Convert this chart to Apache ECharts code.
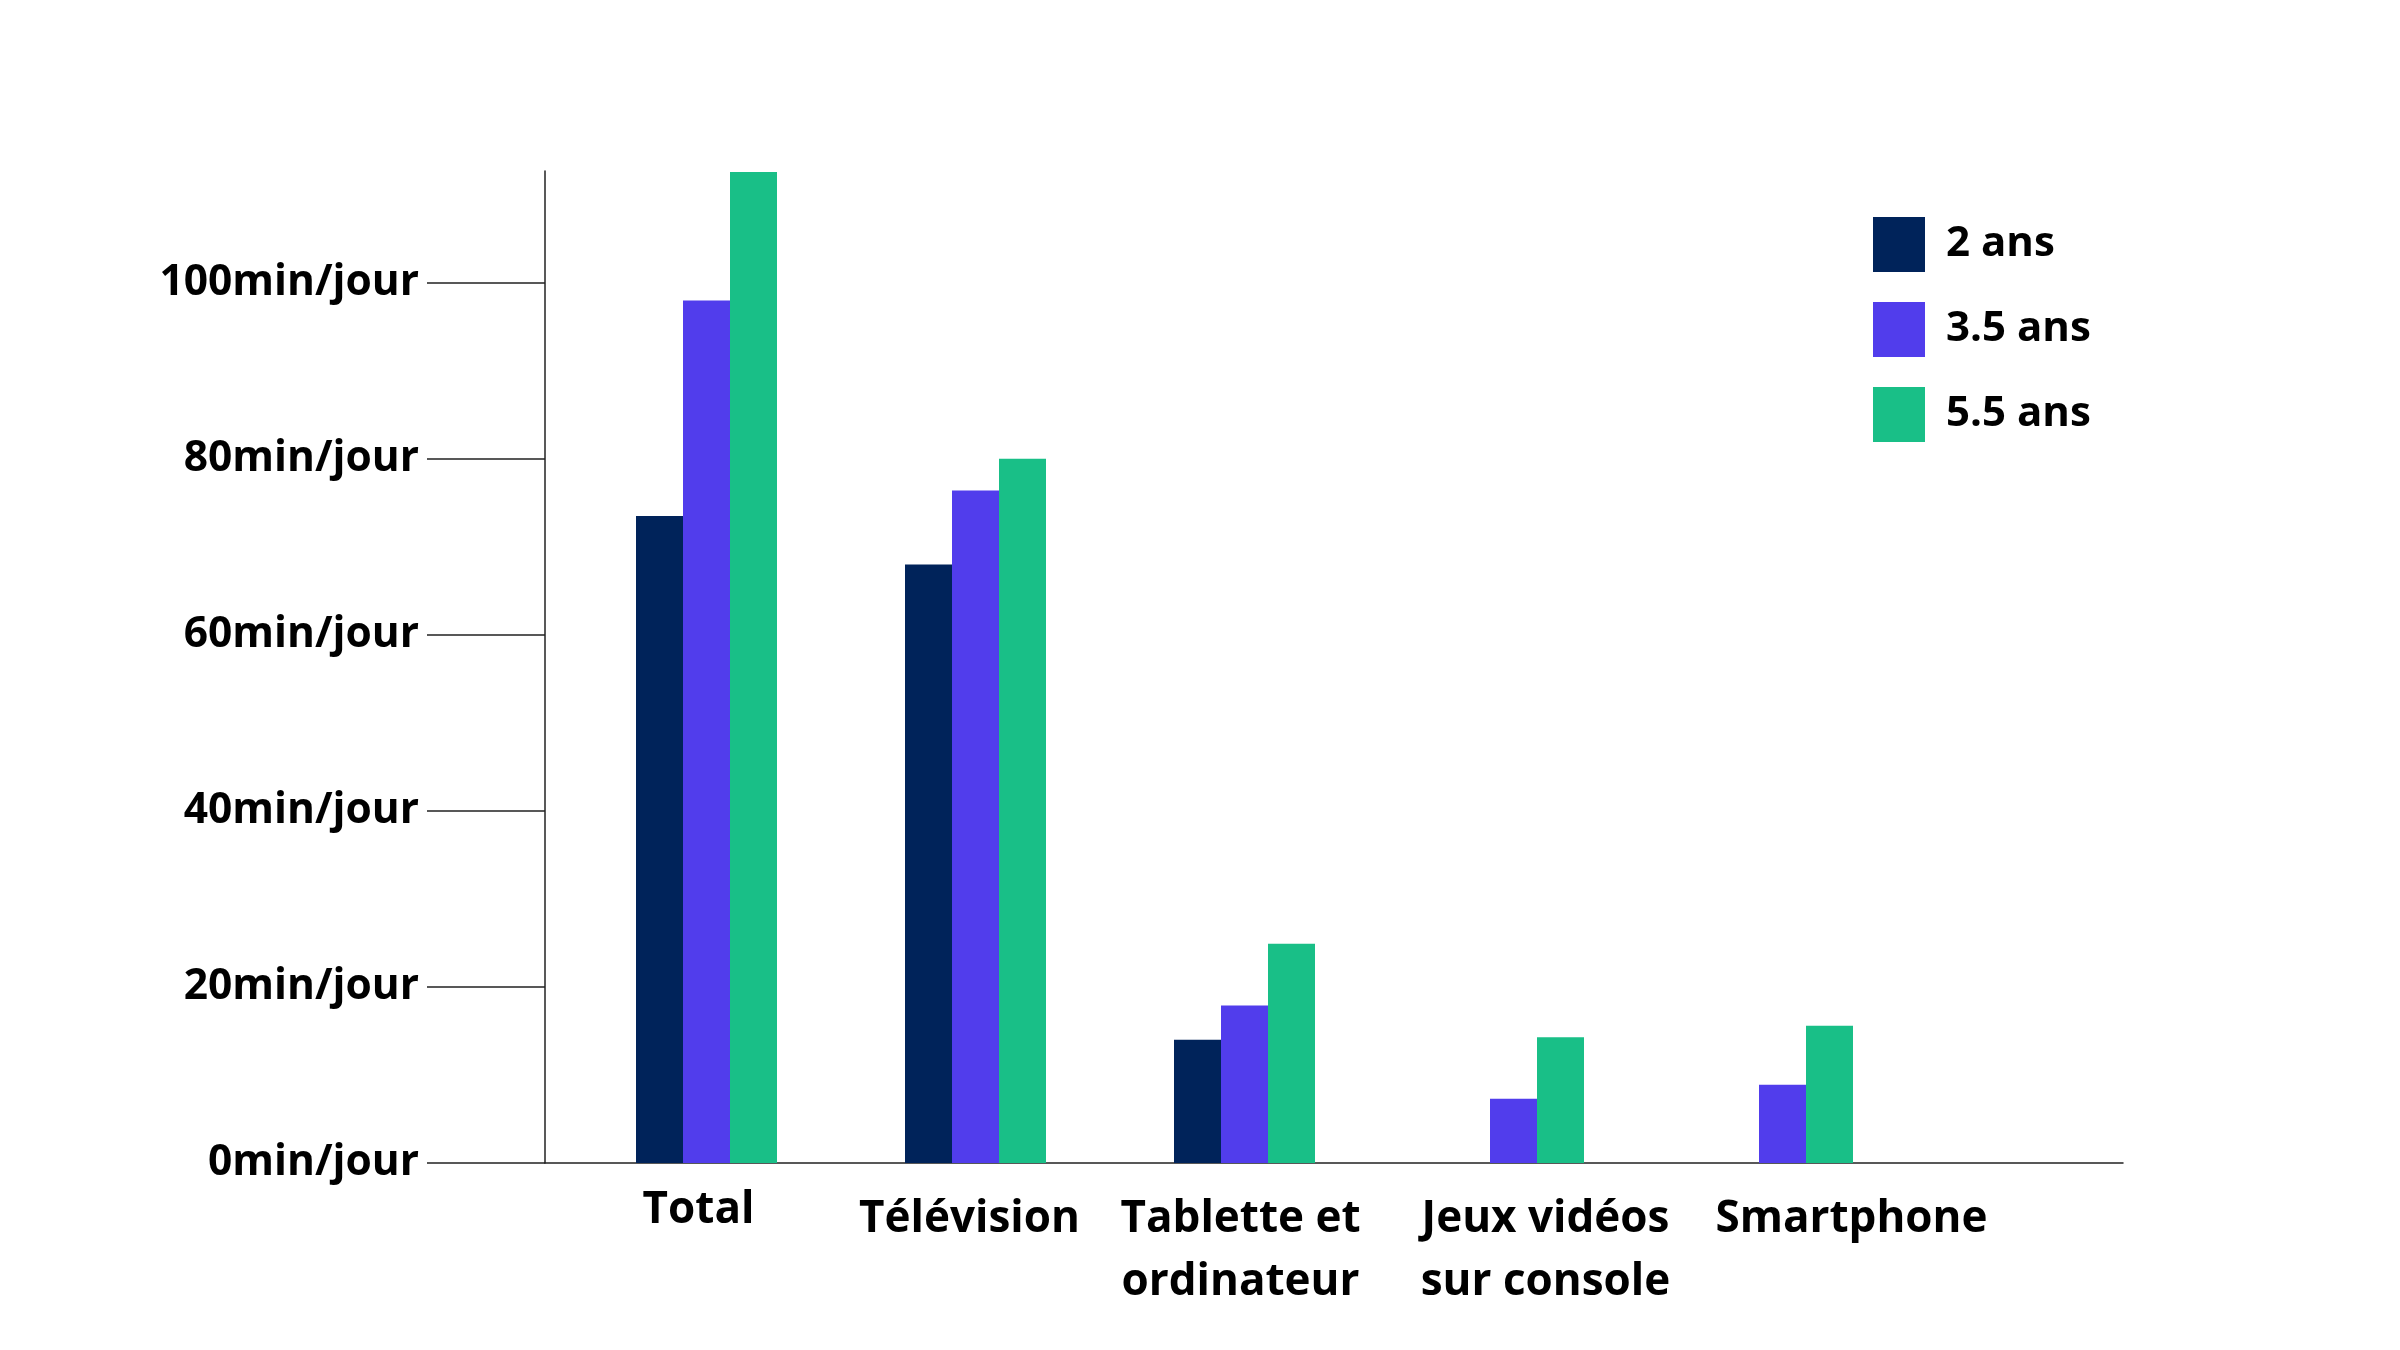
<!DOCTYPE html>
<html>
<head>
<meta charset="utf-8">
<script src="https://cdn.jsdelivr.net/npm/echarts@6/dist/echarts.min.js"></script>
<style>
html,body{margin:0;padding:0;background:#fff;}
#chart{width:2400px;height:1350px;}
</style>
</head>
<body>
<div id="chart"></div>
<script>
// ---- data ----
const categories = ['Total', 'Télévision', 'Tablette et\nordinateur', 'Jeux vidéos\nsur console', 'Smartphone'];
const seriesNames = ['2 ans', '3.5 ans', '5.5 ans'];
const values2ans = [73.5, 68, 14, null, null];
const values35ans = [98, 76.4, 17.9, 7.3, 8.9];
const values55ans = [112.6, 80, 24.9, 14.3, 15.6];
const yTickValues = [0, 20, 40, 60, 80, 100];
const yUnit = 'min/jour';

// ---- styles ----
const colors = ['#00235A', '#513DEC', '#19BF87'];
const FONT = '"Open Sans", "DejaVu Sans", sans-serif';
const labelShift = [-8, -6, -4, 32, 69];

const rich = {};
labelShift.forEach((s, i) => {
  rich['s' + i] = {
    fontFamily: FONT, fontWeight: 700, fontSize: 44, color: '#000',
    lineHeight: i === 0 ? 44 : 63,
    padding: s >= 0 ? [0, 0, 0, 2 * s] : [0, -2 * s, 0, 0]
  };
});

const chart = echarts.init(document.getElementById('chart'), null, {renderer: 'canvas'});
const yMax = 112.7;

chart.setOption({
  backgroundColor: '#fff',
  animation: false,
  color: colors,
  legend: {
    orient: 'vertical',
    left: 1868, top: 212,
    icon: 'rect',
    itemWidth: 52, itemHeight: 55, itemGap: 30,
    textStyle: {fontFamily: FONT, fontWeight: 700, fontSize: 42, color: '#000', padding: [0, 0, 0, 16]},
    data: seriesNames
  },
  grid: [
    {left: 572, width: 1345, top: 171, height: 992},
    {left: 545, width: 1578, top: 171, height: 992}
  ],
  xAxis: [
    {
      type: 'category', gridIndex: 0, data: categories,
      axisLine: {show: false}, axisTick: {show: false},
      axisLabel: {
        interval: 0, margin: 25,
        fontFamily: FONT, fontWeight: 700, fontSize: 44, color: '#000', lineHeight: 63,
        formatter: (v, i) => v.split('\n').map(l => '{s' + i + '|' + l + '}').join('\n'),
        rich: rich
      }
    },
    {
      type: 'category', gridIndex: 1, data: [''],
      axisLine: {show: true, lineStyle: {color: '#222', width: 1.5}},
      axisTick: {show: false}, axisLabel: {show: false}
    }
  ],
  yAxis: [
    {type: 'value', gridIndex: 0, min: 0, max: yMax, show: false, splitLine: {show: false}},
    {
      type: 'value', gridIndex: 1, min: 0, max: yMax,
      axisLine: {show: true, lineStyle: {color: '#222', width: 1.5}},
      axisTick: {show: true, length: 118, customValues: yTickValues, lineStyle: {color: '#222', width: 1.5}},
      axisLabel: {
        customValues: yTickValues, margin: 126,
        fontFamily: FONT, fontWeight: 700, fontSize: 42.5, color: '#000',
        formatter: v => v + yUnit
      },
      splitLine: {show: false}
    }
  ],
  series: [
    {name: seriesNames[0], type: 'bar', xAxisIndex: 0, yAxisIndex: 0, data: values2ans, barWidth: 47, barGap: '0%'},
    {name: seriesNames[1], type: 'bar', xAxisIndex: 0, yAxisIndex: 0, data: values35ans, barWidth: 47, barGap: '0%'},
    {name: seriesNames[2], type: 'bar', xAxisIndex: 0, yAxisIndex: 0, data: values55ans, barWidth: 47, barGap: '0%'}
  ]
});
</script>
</body>
</html>
